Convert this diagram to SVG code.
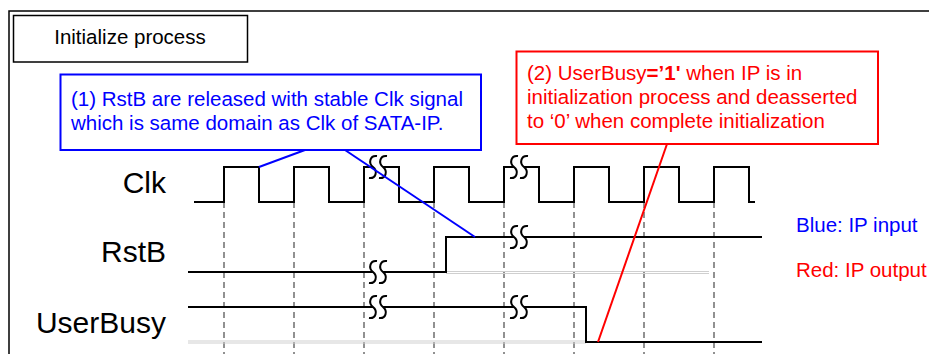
<svg xmlns="http://www.w3.org/2000/svg" xmlns:xlink="http://www.w3.org/1999/xlink" width="930" height="354" viewBox="0 0 930 354">
<style>
text{font-family:"Liberation Sans",Arial,sans-serif}
.box{font-size:20.5px}
.lbl{font-size:30px;text-anchor:end;fill:#000}
.wave{fill:none;stroke:#000;stroke-width:2}
.ghost{fill:none;stroke:#cfcfcf;stroke-width:1}
.dash{stroke:#6e6e6e;stroke-width:1.5;stroke-dasharray:6,4}
.blue{fill:#0000ff}
.red{fill:#ff0000}
</style>
<defs>
<g id="brk">
<rect x="-5" y="-4" width="10" height="8" fill="#fff"/>
<path d="M-1,-11 C-8,-12 -10,-4 -5,0 C0,4 -2,12 -9,11 M9,-11 C2,-12 0,-4 5,0 C10,4 8,12 1,11" fill="none" stroke="#000" stroke-width="2"/>
</g>
</defs>
<rect width="930" height="354" fill="#fff"/>
<g id="frame">
<path d="M9,354 V11 H929" fill="none" stroke="#000" stroke-width="1.5"/>
</g>
<g id="title">
<rect x="13.5" y="15.5" width="234" height="46.5" fill="#fff" stroke="#000" stroke-width="1.5"/>
<text x="130" y="44" class="box" text-anchor="middle">Initialize process</text>
</g>
<g id="grid">
<line class="dash" x1="224" y1="202" x2="224" y2="354"/>
<line class="dash" x1="294" y1="202" x2="294" y2="354"/>
<line class="dash" x1="364" y1="202" x2="364" y2="354"/>
<line class="dash" x1="434" y1="202" x2="434" y2="354"/>
<line class="dash" x1="504" y1="202" x2="504" y2="354"/>
<line class="dash" x1="574" y1="202" x2="574" y2="354"/>
<line class="dash" x1="644" y1="202" x2="644" y2="354"/>
<line class="dash" x1="714" y1="202" x2="714" y2="354"/>
</g>
<g id="clk">
<text x="166" y="193" class="lbl">Clk</text>
<path class="wave" d="M194,202 H224 V167 H259 V202 H294 V167 H329 V202 H364 V167 H399 V202 H434 V167 H469 V202 H504 V167 H539 V202 H574 V167 H609 V202 H644 V167 H679 V202 H714 V167 H749 V202 H755"/>
<use xlink:href="#brk" x="378" y="167"/>
<use xlink:href="#brk" x="519" y="167"/>
</g>
<g id="rstb">
<text x="166" y="262" class="lbl">RstB</text>
<path class="ghost" d="M446,271.5 H709 M446,273.5 H709"/>
<path class="wave" d="M188,272 H446 V237 H762"/>
<use xlink:href="#brk" x="378" y="272"/>
<use xlink:href="#brk" x="519" y="237"/>
</g>
<g id="userbusy">
<text x="166" y="333" class="lbl">UserBusy</text>
<path class="ghost" d="M188,341 H586 M188,343 H586"/>
<path class="wave" d="M188,307 H586 V342 H762"/>
<use xlink:href="#brk" x="378" y="307"/>
<use xlink:href="#brk" x="519" y="307"/>
</g>
<g id="note1">
<rect x="60.5" y="74.5" width="420.5" height="75.5" fill="#fff" stroke="#0000ff" stroke-width="2"/>
<text class="box blue" x="71" y="106">(1) RstB are released with stable Clk signal</text>
<text class="box blue" x="71" y="130">which is same domain as Clk of SATA-IP.</text>
</g>
<g id="note2">
<rect x="516.5" y="51.5" width="361.5" height="92.5" fill="#fff" stroke="#ff0000" stroke-width="2"/>
<text class="box red" x="527" y="80">(2) UserBusy<tspan font-weight="bold">=’1'</tspan> when IP is in</text>
<text class="box red" x="527" y="104">initialization process and deasserted</text>
<text class="box red" x="527" y="128">to ‘0’ when complete initialization</text>
</g>
<g id="legend">
<text class="box blue" x="796" y="232">Blue: IP input</text>
<text class="box red" x="796" y="277">Red: IP output</text>
</g>
<g id="connectors">
<line x1="305" y1="150" x2="259" y2="167" stroke="#0000ff" stroke-width="2"/>
<line x1="345" y1="150" x2="475" y2="237" stroke="#0000ff" stroke-width="2"/>
<line x1="667" y1="144" x2="598" y2="342" stroke="#ff0000" stroke-width="2"/>
</g>
</svg>
